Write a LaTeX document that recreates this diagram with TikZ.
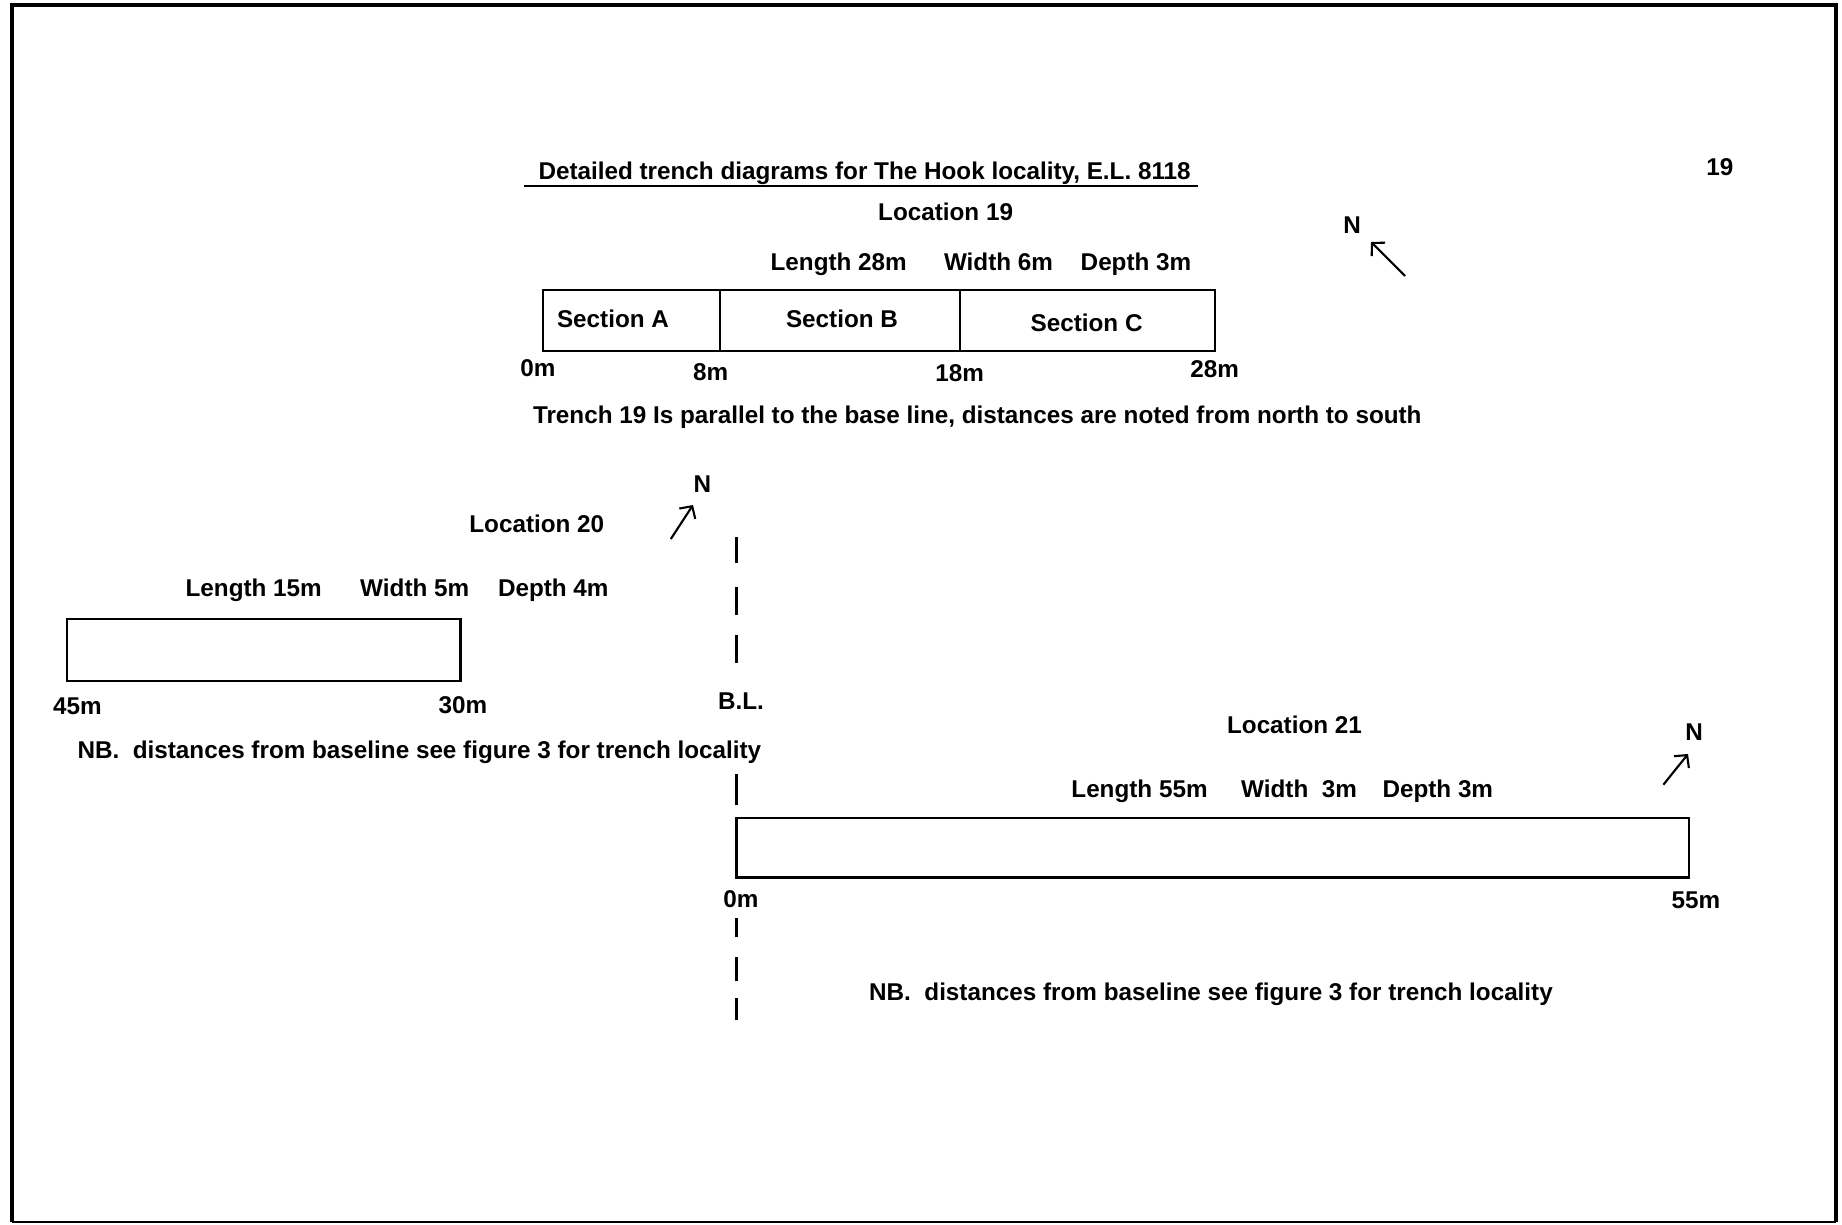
\documentclass[tikz,border=0pt]{standalone}
\usepackage{fontspec}
\setmainfont{Liberation Sans}
\usetikzlibrary{arrows.meta}
\tikzset{
  lbl/.style={font=\fontsize{6.9}{8.5}\selectfont\bfseries, inner sep=0pt, anchor=base},
  trench/.style={draw=black, line width=0.6pt},
  northarrow/.style={line width=0.6pt, -{Straight Barb[length=0.9mm,width=1.9mm]}},
  blseg/.style={line width=1.1pt},
}
\begin{document}
\begin{tikzpicture}[x=0.01cm,y=-0.01cm]
\useasboundingbox (0,0) rectangle (1842,1225);
\fill[white] (0,0) rectangle (1842,1225);
% frame
\draw[line width=1.4pt] (12,1222) -- (12,5) -- (1836,5) -- (1836,1222);
\draw[line width=0.6pt] (12,1222) -- (1836,1222);

% header
\node[lbl] (title) at (864.6,179.5) {Detailed trench diagrams for The Hook locality, E.L. 8118};
\coordinate (ulA) at (524,185.6);
\coordinate (ulB) at (1198,185.6);
\draw[line width=0.6pt] (ulA) -- (ulB);
\node[lbl] (pagenum) at (1719.8,176) {19};

% Location 19
\node[lbl] (loc19) at (945.6,220.6) {Location 19};
\node[lbl] (n19) at (1352,233.5) {N};
\coordinate (n19tail) at (1405,276);
\coordinate (n19head) at (1371,242);
\draw[northarrow] (n19tail) -- (n19head);
\node[lbl] (len19) at (838.7,271) {Length 28m};
\node[lbl] (wid19) at (998.5,271) {Width 6m};
\node[lbl] (dep19) at (1136,271) {Depth 3m};
\draw[trench] (542.7,290) rectangle (1214.6,351.2);
\draw[trench] (720,290) -- (720,351.2);
\draw[trench] (959.7,290) -- (959.7,351.2);
\node[lbl] (secA) at (613,327.5) {Section A};
\node[lbl] (secB) at (842,327.5) {Section B};
\node[lbl] (secC) at (1086.6,332) {Section C};
\node[lbl] (m0a) at (538,377) {0m};
\node[lbl] (m8) at (710.7,380.4) {8m};
\node[lbl] (m18) at (959.7,381.6) {18m};
\node[lbl] (m28) at (1214.6,378) {28m};
\node[lbl] (note19) at (977.3,423.8) {Trench 19 Is parallel to the base line, distances are noted from north to south};

% Location 20
\node[lbl] (n20) at (702.5,493) {N};
\coordinate (n20tail) at (670.8,539);
\coordinate (n20head) at (693,505);
\draw[northarrow] (n20tail) -- (n20head);
\node[lbl] (loc20) at (536.8,533) {Location 20};
\node[lbl] (len20) at (253.7,596.5) {Length 15m};
\node[lbl] (wid20) at (414.7,596.5) {Width 5m};
\node[lbl] (dep20) at (553.3,596.5) {Depth 4m};
\draw[trench] (67,619) rectangle (460.5,681.3);
\node[lbl] (m45) at (77.5,715) {45m};
\node[lbl] (m30) at (462.8,714) {30m};
\node[lbl] (note20) at (419.4,758.6) {NB.\ \ distances from baseline see figure 3 for trench locality};

% base line
\node[lbl] (bl) at (741,709.3) {B.L.};
\foreach \a/\b in {537/563, 587/615, 635/663, 774/805, 918/937, 957/981, 998/1020}
  \draw[blseg] (736.5,\a) -- (736.5,\b);

% Location 21
\node[lbl] (loc21) at (1294.5,734) {Location 21};
\node[lbl] (n21) at (1694,741) {N};
\coordinate (n21tail) at (1663.4,784.7);
\coordinate (n21head) at (1688,754);
\draw[northarrow] (n21tail) -- (n21head);
\node[lbl] (len21) at (1139.5,797.4) {Length 55m};
\node[lbl] (wid21) at (1299,797.4) {Width\ \ 3m};
\node[lbl] (dep21) at (1437.8,797.4) {Depth 3m};
\draw[trench] (736.5,817.6) rectangle (1689,877.5);
\node[lbl] (m0b) at (741,908) {0m};
\node[lbl] (m55) at (1696,909) {55m};
\node[lbl] (note21) at (1211,1000.6) {NB.\ \ distances from baseline see figure 3 for trench locality};
\end{tikzpicture}
\end{document}
